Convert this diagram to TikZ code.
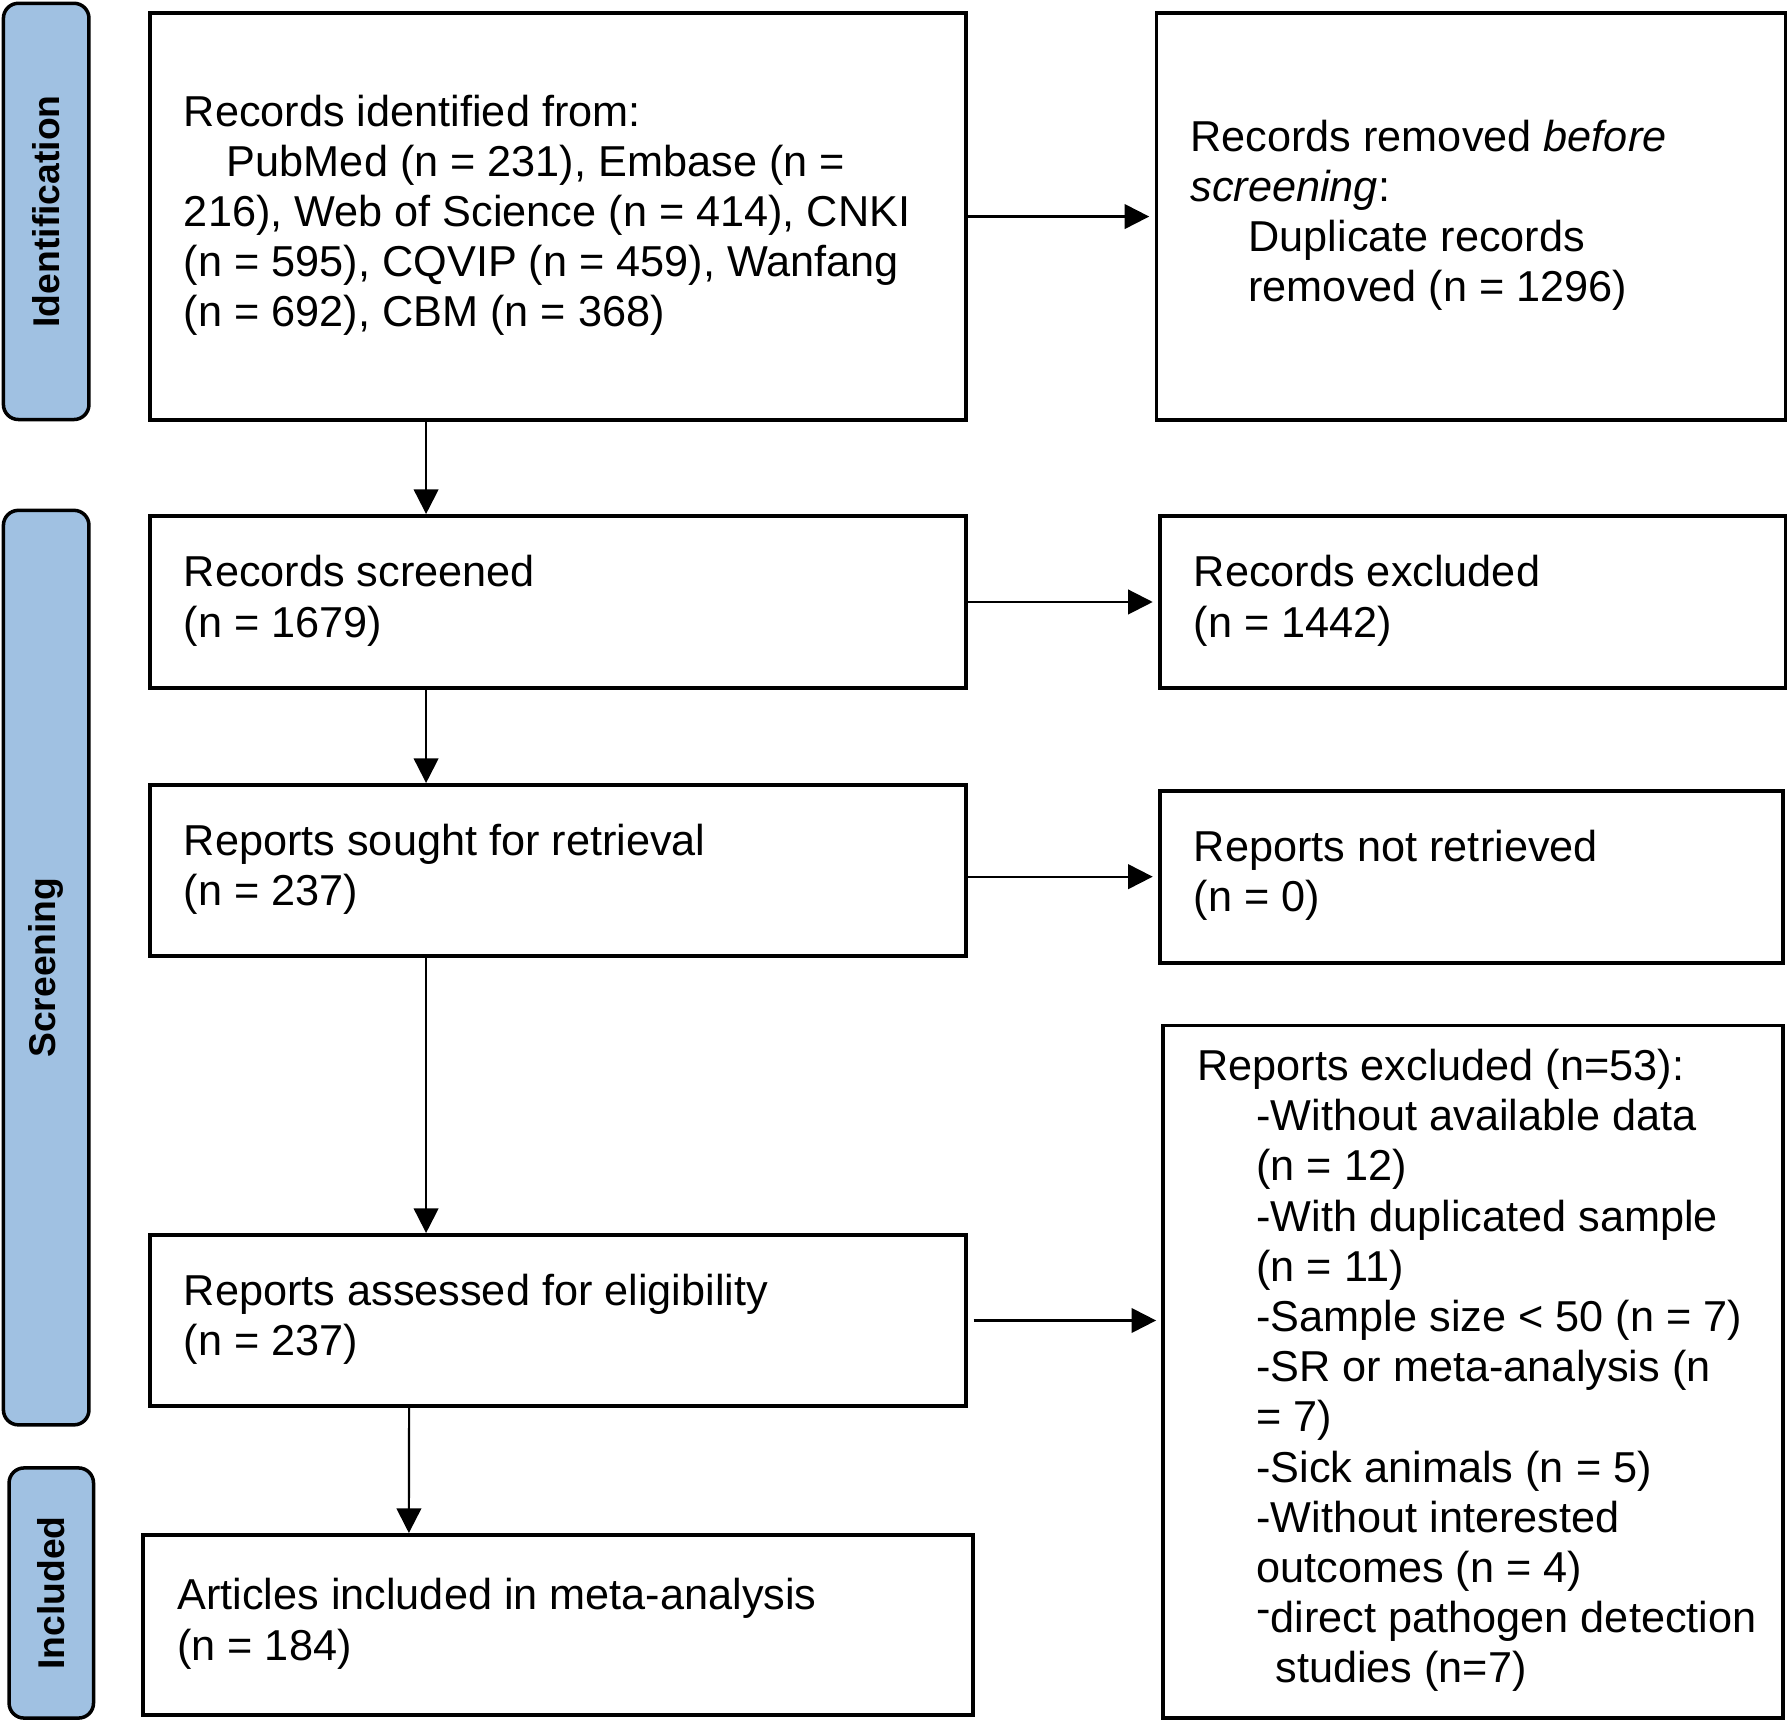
\documentclass[tikz,border=0pt]{standalone}
\usepackage{fontspec}
\setmainfont{Liberation Sans}
\usepackage{tikz}
\usetikzlibrary{arrows.meta,positioning}
\usepackage{xcolor}
\definecolor{phaseblue}{RGB}{160,193,226}
\newcommand{\boxtext}[2]{\makebox[#1][l]{\begin{tabular}{@{}l@{}}#2\end{tabular}}}
\newcommand{\subind}{\hspace*{0.59cm}}
\tikzstyle{arrow} = [line width=0.6pt,-{Triangle[length=7pt,width=7pt]}]
\tikzstyle{prismabox} = [rectangle, draw, line width=1.1pt, anchor=north west, inner xsep=0.34cm, inner ysep=0pt, font=\fontsize{12.3}{14.27}\selectfont]
\tikzstyle{phase} = [rectangle, rounded corners=0.15cm, draw, line width=1pt, fill=phaseblue, rotate=90, inner sep=0pt, font=\fontsize{10.6}{12}\selectfont\bfseries]

\begin{document}
\begin{tikzpicture}[x=0.01cm, y=-0.01cm]
\useasboundingbox (0,0) rectangle (1787,1721);

% Phase labels
\node (idphase) [phase, minimum width=4.16cm, minimum height=0.855cm] at (46.2,211.4) {Identification};
\node (scphase) [phase, minimum width=9.14cm, minimum height=0.855cm] at (46.2,967.6) {Screening};
\node (inphase) [phase, minimum width=2.50cm, minimum height=0.844cm] at (51.3,1593) {Included};

% Identification
\node (ident) [prismabox, minimum height=4.07cm] at (148,11) {\boxtext{7.48cm}{
Records identified from:\\
\hspace*{0.43cm}PubMed (n = 231), Embase (n =\\
216), Web of Science (n = 414), CNKI\\
(n = 595), CQVIP (n = 459), Wanfang\\
(n = 692), CBM (n = 368)}};

\node (removed) [prismabox, minimum height=4.07cm] at (1154.5,11) {\boxtext{5.61cm}{
Records removed \textit{before}\\
\textit{screening}:\\
\hspace*{0.58cm}Duplicate records\\
\hspace*{0.58cm}removed (n = 1296)}};

% Screening
\node (screened) [prismabox, minimum height=1.72cm] at (148,514) {\boxtext{7.48cm}{
Records screened\\
(n = 1679)}};

\node (excluded) [prismabox, minimum height=1.72cm] at (1158,514) {\boxtext{5.576cm}{
Records excluded\\
(n = 1442)}};

\node (sought) [prismabox, minimum height=1.71cm] at (148,783) {\boxtext{7.48cm}{
Reports sought for retrieval\\
(n = 237)}};

\node (notretrieved) [prismabox, minimum height=1.72cm] at (1158,788.7) {\boxtext{5.55cm}{
Reports not retrieved\\
(n = 0)}};

\node (assessed) [prismabox, minimum height=1.71cm] at (148,1233) {\boxtext{7.48cm}{
Reports assessed for eligibility\\
(n = 237)}};

\node (reasons) [prismabox, minimum height=6.92cm] at (1161.4,1023.5) {\boxtext{5.51cm}{
Reports excluded (n=53):\\
\subind -Without available data\\
\subind (n = 12)\\
\subind -With duplicated sample\\
\subind (n = 11)\\
\subind -Sample size < 50 (n = 7)\\
\subind -SR or meta-analysis (n\\
\subind = 7)\\
\subind -Sick animals (n = 5)\\
\subind -Without interested\\
\subind outcomes (n = 4)\\
\subind \raisebox{0.2em}{-}direct pathogen detection\\
\hspace*{0.78cm}studies (n=7)}};

% Included
\node (included) [prismabox, minimum height=1.80cm] at (141.3,1533) {\boxtext{7.61cm}{
Articles included in meta-analysis\\
(n = 184)}};

% Connectors
\draw[arrow, shorten >=1.5pt] (ident) -- (removed);
\draw[arrow] ([xshift=-1.32cm]ident.south) -- ([xshift=-1.32cm]screened.north);
\draw[arrow, shorten >=1.5pt] (screened) -- (excluded);
\draw[arrow] ([xshift=-1.32cm]screened.south) -- ([xshift=-1.32cm]sought.north);
\draw[arrow, shorten >=1.5pt] (notretrieved.west -| sought.east) -- (notretrieved.west);
\draw[arrow] ([xshift=-1.32cm]sought.south) -- ([xshift=-1.32cm]assessed.north);
\draw[arrow, shorten <=1.5pt, shorten >=1.5pt] (assessed.east) -- (assessed.east -| reasons.west);
\draw[arrow] ([xshift=-1.49cm]assessed.south) -- ([xshift=-1.49cm]included.north);
\end{tikzpicture}
\end{document}
